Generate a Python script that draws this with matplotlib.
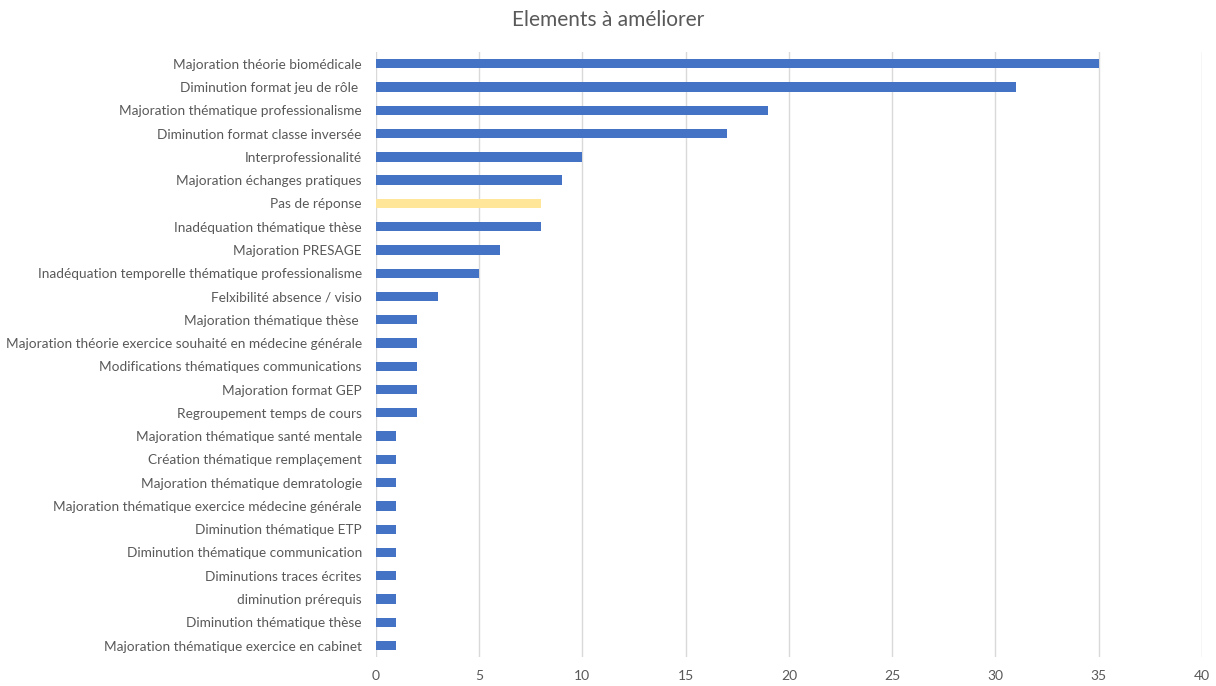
import matplotlib.pyplot as plt

# données
categories = [
    "Majoration théorie biomédicale",
    "Diminution format jeu de rôle ",
    "Majoration thématique professionalisme",
    "Diminution format classe inversée",
    "Interprofessionalité",
    "Majoration échanges pratiques",
    "Pas de réponse",
    "Inadéquation thématique thèse",
    "Majoration PRESAGE",
    "Inadéquation temporelle thématique professionalisme",
    "Felxibilité absence / visio",
    "Majoration thématique thèse ",
    "Majoration théorie exercice souhaité en médecine générale",
    "Modifications thématiques communications",
    "Majoration format GEP",
    "Regroupement temps de cours",
    "Majoration thématique santé mentale",
    "Création thématique remplaçement",
    "Majoration thématique demratologie",
    "Majoration thématique exercice médecine générale",
    "Diminution thématique ETP",
    "Diminution thématique communication",
    "Diminutions traces écrites",
    "diminution prérequis",
    "Diminution thématique thèse",
    "Majoration thématique exercice en cabinet",
]
values = [35, 31, 19, 17, 10, 9, 8, 8, 6, 5, 3, 2, 2, 2, 2, 2,
          1, 1, 1, 1, 1, 1, 1, 1, 1, 1]
highlight = "Pas de réponse"
xticks = [0, 5, 10, 15, 20, 25, 30, 35, 40]

plt.rcParams['font.family'] = ['Lato', 'DejaVu Sans']
text_color = '#595959'

fig = plt.figure(figsize=(12.16, 6.86), dpi=100)
ax = fig.add_axes([0.309, 0.042, 0.6795, 0.882])

colors = ['#FFE699' if c == highlight else '#4472C4' for c in categories]
ypos = list(range(len(categories)))
ax.barh(ypos, values, height=0.4, color=colors, zorder=3)

ax.set_yticks(ypos)
ax.set_yticklabels(categories, fontsize=9.8, color=text_color)
ax.set_ylim(len(categories) - 0.5, -0.5)
ax.set_xlim(0, 40)
ax.set_xticks(xticks)
ax.set_xticklabels([str(t) for t in xticks], fontsize=10, color=text_color)
ax.tick_params(axis='both', length=0)
ax.tick_params(axis='y', pad=10)
ax.tick_params(axis='x', pad=9)
ax.grid(axis='x', color='#D9D9D9', linewidth=1, zorder=0)
for s in ax.spines.values():
    s.set_visible(False)

fig.suptitle('Elements à améliorer', fontsize=15, color=text_color, y=0.985)

fig.savefig('out.png', dpi=100)
